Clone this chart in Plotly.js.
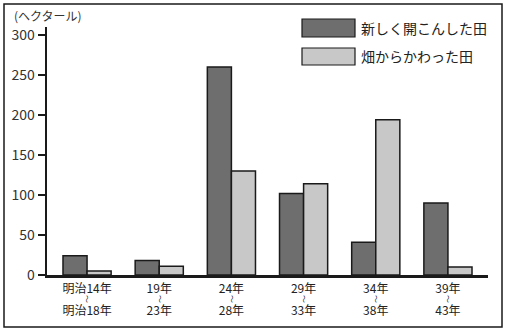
<!DOCTYPE html>
<html>
<head>
<meta charset="utf-8">
<script src="https://cdn.plot.ly/plotly-3.0.1.min.js"></script>
<style>html,body{margin:0;padding:0;background:#fff;}#chart{width:505px;height:331px;}</style>
</head>
<body>
<div id="chart"></div>
<script>
// Data
const periodStart = ["明治14年", "19年", "24年", "29年", "34年", "39年"];
const periodEnd   = ["明治18年", "23年", "28年", "33年", "38年", "43年"];
const newFields   = [24, 18, 260, 102, 41, 90];     // 新しく開こんした田
const convFields  = [5, 11, 130, 114, 194, 10];     // 畑からかわった田
const seriesNames = ["新しく開こんした田", "畑からかわった田"];
const yTicks = [0, 50, 100, 150, 200, 250, 300];
const rangeMark = "〜";

const idx = periodStart.map((_, i) => i);

const FONT = '"Noto Sans CJK JP", "Noto Sans", sans-serif';
const darkC = '#6e6e6e', lightC = '#c8c8c8';

const traces = [
  {type: 'bar', x: idx, y: newFields, name: seriesNames[0],
   marker: {color: darkC, line: {color: '#1a1a1a', width: 1.5}}},
  {type: 'bar', x: idx, y: convFields, name: seriesNames[1],
   marker: {color: lightC, line: {color: '#1a1a1a', width: 1.5}}},
  // carriers for the extra label rows (no visible marks)
  {type: 'scatter', mode: 'markers', x: idx, y: idx.map(() => null), xaxis: 'x2', yaxis: 'y', hoverinfo: 'skip', showlegend: false},
  {type: 'scatter', mode: 'markers', x: idx, y: idx.map(() => null), xaxis: 'x3', yaxis: 'y', hoverinfo: 'skip', showlegend: false}
];

const L = 47, R = 488, T = 27, B = 275, W = 505, H = 331;
const pw = R - L, ph = B - T;
const px = v => (v - L) / pw;
const py = v => (B - v) / ph;
const xr = [-0.555, 5.555];
const tickF = {size: 12, color: '#222', family: FONT};

const baseX = {
  range: xr, tickvals: idx, showgrid: false, zeroline: false, ticks: '', fixedrange: true
};

const layout = {
  width: W, height: H,
  margin: {l: L, r: W - R, t: T, b: H - B},
  paper_bgcolor: '#fff', plot_bgcolor: '#fff',
  showlegend: false,
  barmode: 'group',
  bargap: 0.333, bargroupgap: 0,
  font: {family: FONT, color: '#222'},
  xaxis: Object.assign({}, baseX, {
    ticktext: periodStart, showline: true, linecolor: '#1a1a1a', linewidth: 2.5,
    ticklabelstandoff: 1, tickfont: tickF
  }),
  xaxis2: Object.assign({}, baseX, {
    overlaying: 'x', side: 'bottom', ticktext: idx.map(() => rangeMark), showline: false,
    tickangle: 90, ticklabelstandoff: 19, tickfont: {size: 8, color: '#333', family: FONT}
  }),
  xaxis3: Object.assign({}, baseX, {
    overlaying: 'x', side: 'bottom', ticktext: periodEnd, showline: false,
    ticklabelstandoff: 27, tickfont: tickF
  }),
  yaxis: {
    range: [0, 310], tickvals: yTicks, ticktext: yTicks.map(String),
    showgrid: false, zeroline: false, showline: true, linecolor: '#1a1a1a', linewidth: 2.5,
    ticks: 'outside', ticklen: 7, tickwidth: 2, tickcolor: '#1a1a1a',
    tickfont: {size: 14, color: '#333', family: FONT}, fixedrange: true
  },
  shapes: [
    {type: 'rect', xref: 'paper', yref: 'paper', x0: px(4), x1: px(502), y0: py(327), y1: py(4),
     line: {color: '#1a1a1a', width: 1.5}, fillcolor: 'rgba(0,0,0,0)', layer: 'above'},
    {type: 'rect', xref: 'paper', yref: 'paper', x0: px(302), x1: px(355), y0: py(37), y1: py(19),
     line: {color: '#1a1a1a', width: 1.2}, fillcolor: darkC},
    {type: 'rect', xref: 'paper', yref: 'paper', x0: px(302), x1: px(355), y0: py(65), y1: py(48),
     line: {color: '#1a1a1a', width: 1.2}, fillcolor: lightC}
  ],
  annotations: [
    {xref: 'paper', yref: 'paper', x: px(12), y: py(15), xanchor: 'left', yanchor: 'middle',
     text: '(ヘクタール)', showarrow: false, font: {size: 12, color: '#333', family: FONT}},
    {xref: 'paper', yref: 'paper', x: px(359), y: py(28), xanchor: 'left', yanchor: 'middle',
     text: seriesNames[0], showarrow: false, font: {size: 14, color: '#222', family: FONT}},
    {xref: 'paper', yref: 'paper', x: px(359), y: py(56), xanchor: 'left', yanchor: 'middle',
     text: seriesNames[1], showarrow: false, font: {size: 14, color: '#222', family: FONT}}
  ]
};

Plotly.newPlot('chart', traces, layout, {staticPlot: true, displayModeBar: false});
</script>
</body>
</html>
